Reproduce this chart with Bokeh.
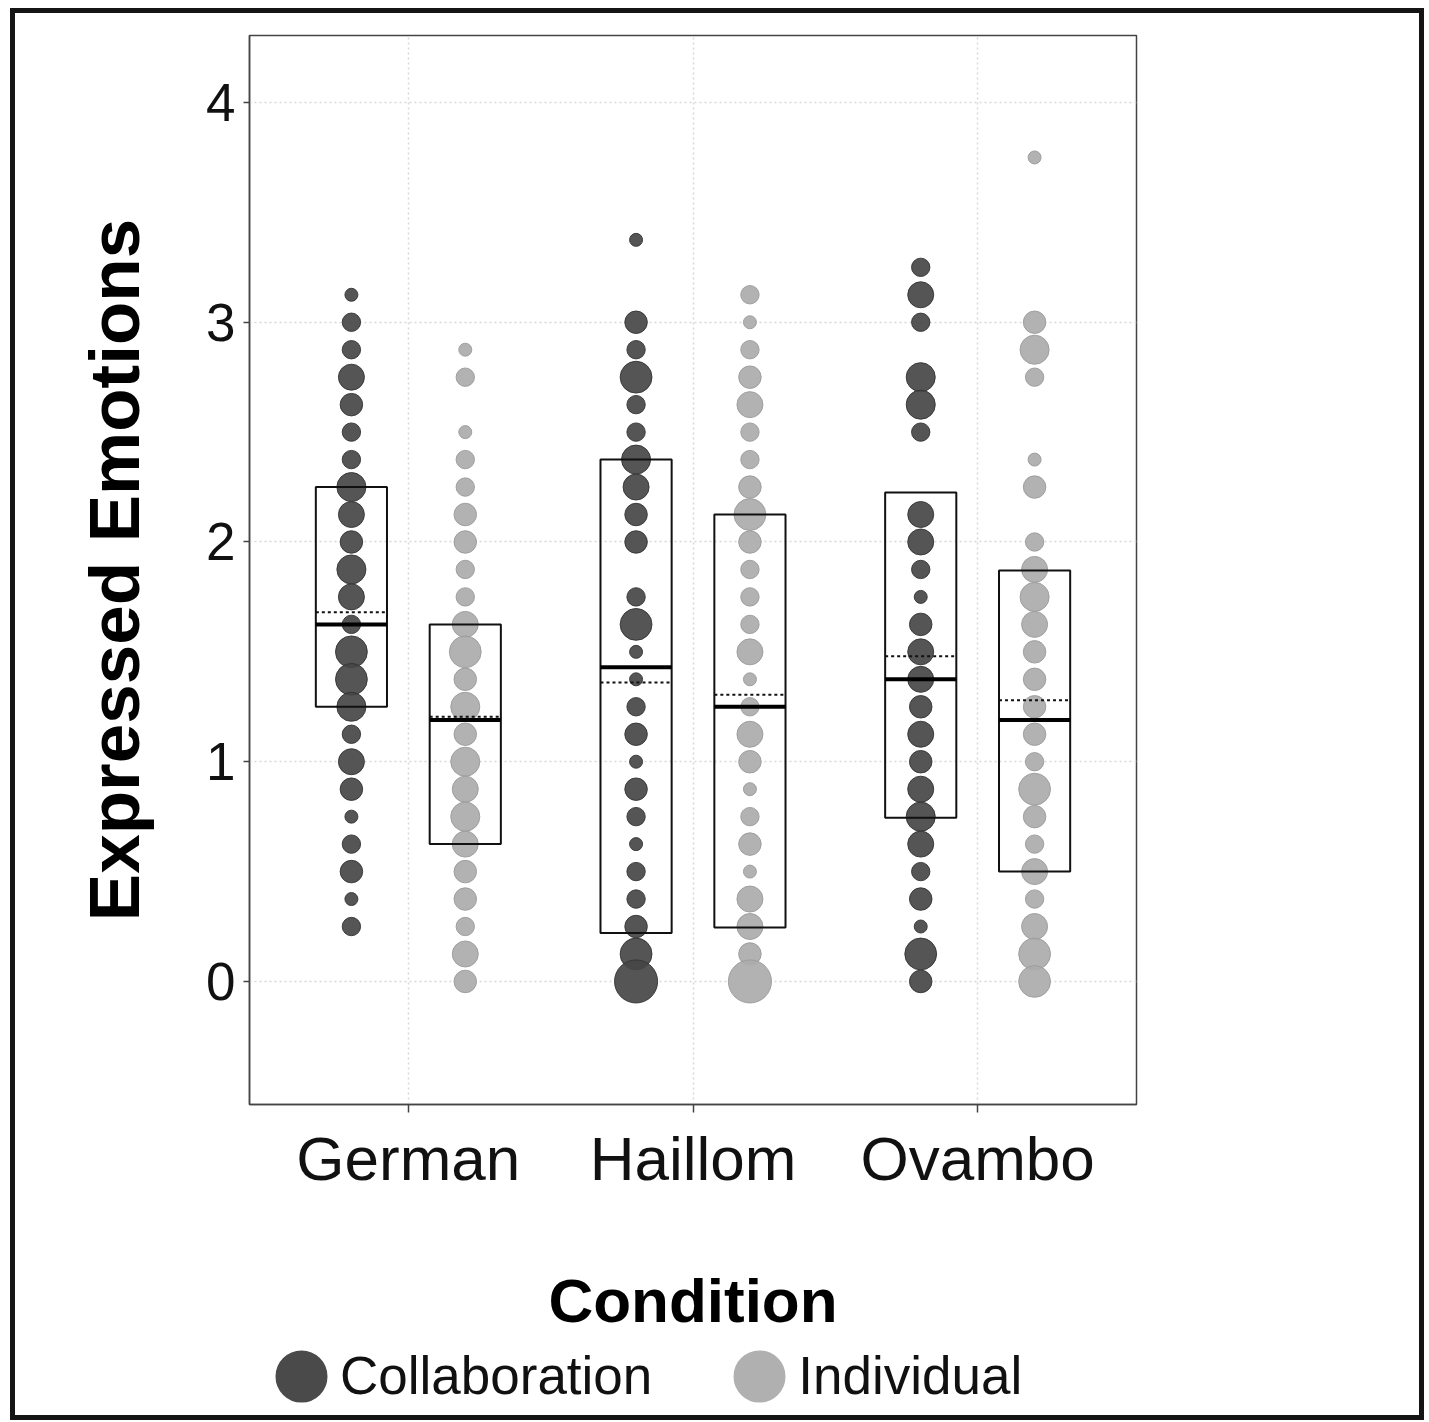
from bokeh.plotting import figure
from bokeh.layouts import column
from bokeh.models import Range1d, FixedTicker, Legend, LegendItem, ColumnDataSource
from bokeh.embed import file_html
from bokeh.resources import INLINE
import math

# ---------------- data ----------------
groups = ["German", "Haillom", "Ovambo"]
conditions = ["Collaboration", "Individual"]

german_collab_scores = [3.125, 3.0, 2.875, 2.75, 2.625, 2.5, 2.375, 2.25, 2.125, 2.0, 1.875, 1.75,
                        1.625, 1.5, 1.375, 1.25, 1.125, 1.0, 0.875, 0.75, 0.625, 0.5, 0.375, 0.25]
german_collab_counts = [1, 2, 2, 4, 3, 2, 2, 5, 4, 3, 5, 4, 2, 6, 6, 5, 2, 4, 3, 1, 2, 3, 1, 2]

german_indiv_scores = [2.875, 2.75, 2.5, 2.375, 2.25, 2.125, 2.0, 1.875, 1.75, 1.625, 1.5, 1.375,
                       1.25, 1.125, 1.0, 0.875, 0.75, 0.625, 0.5, 0.375, 0.25, 0.125, 0.0]
german_indiv_counts = [1, 2, 1, 2, 2, 3, 3, 2, 2, 4, 6, 3, 5, 3, 5, 4, 5, 4, 3, 3, 2, 4, 3]

haillom_collab_scores = [3.375, 3.0, 2.875, 2.75, 2.625, 2.5, 2.375, 2.25, 2.125, 2.0, 1.75, 1.625,
                         1.5, 1.375, 1.25, 1.125, 1.0, 0.875, 0.75, 0.625, 0.5, 0.375, 0.25, 0.125, 0.0]
haillom_collab_counts = [1, 3, 2, 6, 2, 2, 5, 4, 3, 3, 2, 6, 1, 1, 2, 3, 1, 3, 2, 1, 2, 2, 3, 6, 11]

haillom_indiv_scores = [3.125, 3.0, 2.875, 2.75, 2.625, 2.5, 2.375, 2.25, 2.125, 2.0, 1.875, 1.75, 1.625,
                        1.5, 1.375, 1.25, 1.125, 1.0, 0.875, 0.75, 0.625, 0.5, 0.375, 0.25, 0.125, 0.0]
haillom_indiv_counts = [2, 1, 2, 3, 4, 2, 2, 3, 6, 3, 2, 2, 2, 4, 1, 2, 4, 3, 1, 2, 3, 1, 4, 4, 3, 11]

ovambo_collab_scores = [3.25, 3.125, 3.0, 2.75, 2.625, 2.5, 2.125, 2.0, 1.875, 1.75, 1.625, 1.5,
                        1.375, 1.25, 1.125, 1.0, 0.875, 0.75, 0.625, 0.5, 0.375, 0.25, 0.125, 0.0]
ovambo_collab_counts = [2, 4, 2, 5, 5, 2, 4, 4, 2, 1, 3, 4, 4, 3, 4, 3, 4, 5, 4, 2, 3, 1, 6, 3]

ovambo_indiv_scores = [3.75, 3.0, 2.875, 2.75, 2.375, 2.25, 2.0, 1.875, 1.75, 1.625, 1.5, 1.375,
                       1.25, 1.125, 1.0, 0.875, 0.75, 0.625, 0.5, 0.375, 0.25, 0.125, 0.0]
ovambo_indiv_counts = [1, 3, 5, 2, 1, 3, 2, 4, 5, 4, 3, 3, 3, 3, 2, 6, 3, 2, 4, 2, 4, 6, 6]

# box summaries, order: German C, German I, Haillom C, Haillom I, Ovambo C, Ovambo I
box_group = ["German", "German", "Haillom", "Haillom", "Ovambo", "Ovambo"]
box_condition = ["Collaboration", "Individual"] * 3
box_q1 = [1.25, 0.625, 0.22, 0.245, 0.745, 0.5]
box_q3 = [2.25, 1.625, 2.375, 2.125, 2.225, 1.87]
box_median = [1.625, 1.19, 1.43, 1.25, 1.375, 1.19]
box_mean = [1.68, 1.205, 1.36, 1.305, 1.48, 1.28]

y_ticks = [0, 1, 2, 3, 4]

# ---------------- styling ----------------
FONT = "Liberation Sans"
DODGE = 0.2
BOX_W = 0.25
COL_DARK = "#474747"
COL_LIGHT = "#ababab"


def gpos(g, cond):
    return groups.index(g) + 1 + (-DODGE if cond == "Collaboration" else DODGE)


def dsize(n):
    return 13.0 * math.sqrt(n)


series = {
    "Collaboration": [("German", german_collab_scores, german_collab_counts),
                      ("Haillom", haillom_collab_scores, haillom_collab_counts),
                      ("Ovambo", ovambo_collab_scores, ovambo_collab_counts)],
    "Individual": [("German", german_indiv_scores, german_indiv_counts),
                   ("Haillom", haillom_indiv_scores, haillom_indiv_counts),
                   ("Ovambo", ovambo_indiv_scores, ovambo_indiv_counts)],
}

# ---------------- main plot ----------------
p = figure(width=1404, height=1330, output_backend="svg", toolbar_location=None,
           x_range=Range1d(0.442, 3.558), y_range=Range1d(-0.56, 4.305),
           min_border_left=234, min_border_top=22, min_border_right=283, min_border_bottom=239)
p.background_fill_color = "white"
p.border_fill_color = "white"
p.outline_line_color = "#444444"
p.outline_line_width = 1.5

for cond, color, lcolor in [("Collaboration", COL_DARK, "#333333"), ("Individual", COL_LIGHT, "#9a9a9a")]:
    xs, ys, ss = [], [], []
    for g, sc, cn in series[cond]:
        for v, n in zip(sc, cn):
            xs.append(gpos(g, cond))
            ys.append(v)
            ss.append(dsize(n))
    src = ColumnDataSource(dict(x=xs, y=ys, s=ss))
    p.scatter("x", "y", size="s", source=src, marker="circle",
              fill_color=color, fill_alpha=0.92, line_color=lcolor,
              line_alpha=0.9, line_width=1)

bx = [gpos(g, c) for g, c in zip(box_group, box_condition)]
bsrc = ColumnDataSource(dict(
    left=[x - BOX_W / 2 for x in bx], right=[x + BOX_W / 2 for x in bx],
    q1=box_q1, q3=box_q3, med=box_median, mean=box_mean))
p.quad(left="left", right="right", bottom="q1", top="q3", source=bsrc,
       fill_color=None, line_color="#111111", line_width=2)
p.segment(x0="left", x1="right", y0="mean", y1="mean", source=bsrc,
          line_color="#111111", line_width=2, line_dash="3 3")
p.segment(x0="left", x1="right", y0="med", y1="med", source=bsrc,
          line_color="#000000", line_width=4)

xa = p.xaxis[0]
xa.ticker = FixedTicker(ticks=[1, 2, 3])
xa.major_label_overrides = {1: groups[0], 2: groups[1], 3: groups[2]}
xa.major_label_text_font = FONT
xa.major_label_text_font_size = "62px"
xa.major_label_text_color = "#111111"
xa.major_label_standoff = 11
xa.major_tick_out = 8
xa.major_tick_in = 0
xa.minor_tick_out = 0
xa.minor_tick_in = 0
xa.axis_line_color = "#444444"
xa.axis_line_width = 1.5
xa.major_tick_line_color = "#444444"
xa.major_tick_line_width = 1.5
xa.axis_label = "Condition"
xa.axis_label_text_font = FONT
xa.axis_label_text_font_size = "62px"
xa.axis_label_text_font_style = "bold"
xa.axis_label_text_color = "#000000"
xa.axis_label_standoff = 70

ya = p.yaxis[0]
ya.ticker = FixedTicker(ticks=y_ticks)
ya.major_label_text_font = FONT
ya.major_label_text_font_size = "53px"
ya.major_label_text_color = "#111111"
ya.major_label_standoff = 8
ya.major_tick_out = 6
ya.major_tick_in = 0
ya.minor_tick_out = 0
ya.minor_tick_in = 0
ya.axis_line_color = "#444444"
ya.axis_line_width = 1.5
ya.major_tick_line_color = "#444444"
ya.major_tick_line_width = 1.5
ya.axis_label = "Expressed Emotions"
ya.axis_label_text_font = FONT
ya.axis_label_text_font_size = "71px"
ya.axis_label_text_font_style = "bold"
ya.axis_label_text_color = "#000000"
ya.axis_label_standoff = 49

for grid in (p.xgrid[0], p.ygrid[0]):
    grid.grid_line_color = "#d8d8d8"
    grid.grid_line_width = 1.5
    grid.grid_line_dash = "2 3"

# ---------------- legend strip ----------------
pl = figure(width=1404, height=72, output_backend="svg", toolbar_location=None,
            x_axis_type=None, y_axis_type=None, x_range=Range1d(0, 1), y_range=Range1d(0, 1),
            min_border=0, min_border_left=0, min_border_right=0, min_border_top=0, min_border_bottom=0)
pl.outline_line_color = None
pl.xgrid.visible = False
pl.ygrid.visible = False
pl.background_fill_color = "white"
pl.border_fill_color = "white"

# legend key renderers (no visible data; a thick outline enlarges the key circle)
leg_r = {}
for cond, color in [("Collaboration", "#4a4a4a"), ("Individual", "#b0b0b0")]:
    leg_r[cond] = pl.scatter(x=[float("nan")], y=[float("nan")], size=10, marker="circle",
                             fill_color=color, line_color=color, line_width=28,
                             fill_alpha=1.0, line_alpha=1.0)

legend = Legend(items=[LegendItem(label=conditions[0], renderers=[leg_r["Collaboration"]]),
                       LegendItem(label=conditions[1], renderers=[leg_r["Individual"]])],
                orientation="horizontal", location=(22, 9),
                glyph_width=60, glyph_height=60, label_standoff=9, spacing=77,
                padding=0, margin=0, border_line_color=None, background_fill_alpha=0,
                label_text_font=FONT, label_text_font_size="53px", label_text_color="#111111")
pl.add_layout(legend)

layout = column(p, pl, spacing=0,
                styles={"border": "5px solid #151515", "margin": "8px 0px 0px 10px"})

open("out.html", "w").write(file_html(layout, INLINE))
